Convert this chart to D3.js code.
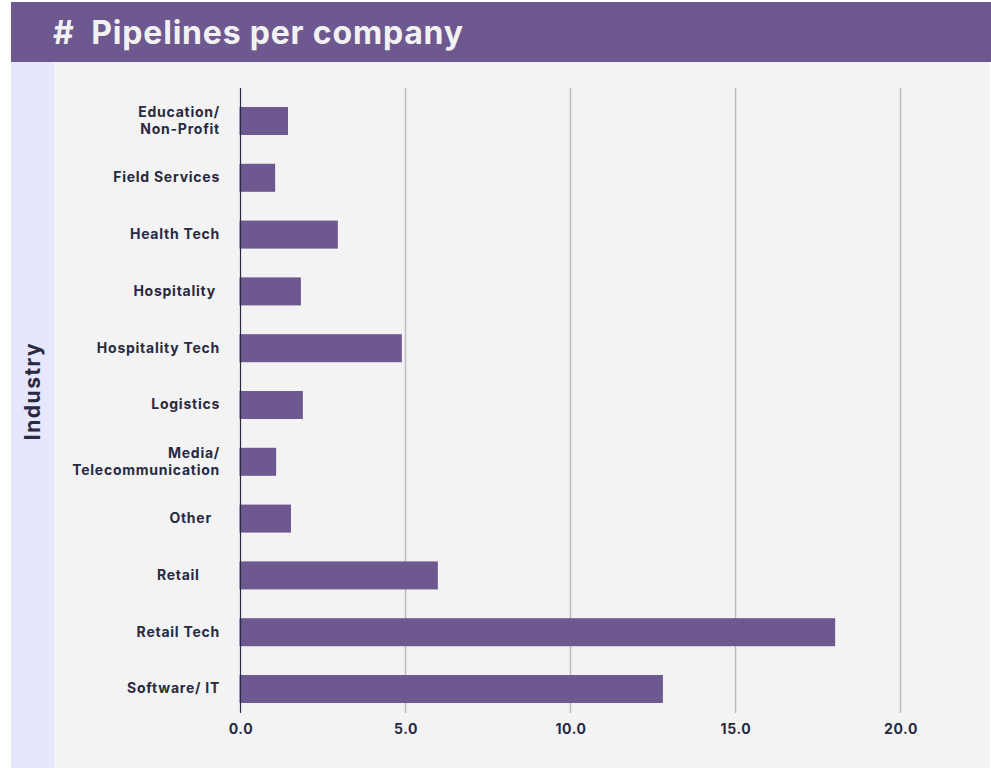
<!DOCTYPE html>
<html>
<meta charset="utf-8">
<head>
<style>
  body { margin: 0; background: #fff; }
  text { font-family: Inter, "Noto Sans", sans-serif; font-weight: 700; white-space: pre; }
</style>
<script src="https://cdn.jsdelivr.net/npm/d3@7"></script>
</head>
<body>
  <svg width="991" height="768"></svg>
  <script>
  // data
  var industries = ["Education/\nNon-Profit", "Field Services", "Health Tech", "Hospitality ",
                    "Hospitality Tech", "Logistics", "Media/\nTelecommunication", "Other  ",
                    "Retail     ", "Retail Tech", "Software/ IT"];
  var pipelines = [1.44, 1.05, 2.95, 1.83, 4.89, 1.89, 1.08, 1.53, 5.98, 18.02, 12.8];
  var xTicks = [0, 5, 10, 15, 20];

  var purple = "#6e5890",
      ink = "#272a42";

  var svg = d3.select("svg");

  // panels
  svg.append("rect").attr("x", 11).attr("y", 2).attr("width", 980).attr("height", 60).attr("fill", purple);
  svg.append("rect").attr("x", 11).attr("y", 62).attr("width", 43).attr("height", 706).attr("fill", "#e6e6fc");
  svg.append("rect").attr("x", 54).attr("y", 62).attr("width", 936).attr("height", 706).attr("fill", "#f3f3f3");

  svg.append("text")
      .attr("x", 53).attr("y", 44)
      .attr("fill", "#f2f2f2")
      .style("font-size", "32px")
      .style("letter-spacing", "0.8px")
      .text("#  Pipelines per company");

  svg.append("text")
      .attr("transform", "translate(40,391) rotate(-90)")
      .attr("text-anchor", "middle")
      .attr("fill", ink)
      .style("font-size", "21px")
      .style("letter-spacing", "1.5px")
      .text("Industry");

  var x = d3.scaleLinear().domain([0, 20]).range([240.5, 900.5]);
  var y = d3.scaleBand().domain(industries).range([92.6, 717.4]).paddingInner(0.507).paddingOuter(0.2535);

  // grid
  svg.append("g").selectAll("line")
    .data(xTicks.slice(1))
    .enter().append("line")
      .attr("x1", function(d) { return x(d); })
      .attr("x2", function(d) { return x(d); })
      .attr("y1", 88).attr("y2", 713)
      .attr("stroke", "#bdbdbd").attr("stroke-width", 1.5);

  // bars
  svg.append("g").selectAll("rect")
    .data(industries)
    .enter().append("rect")
      .attr("x", x(0) - 1)
      .attr("y", function(d) { return y(d); })
      .attr("width", function(d, i) { return x(pipelines[i]) - x(0) + 1; })
      .attr("height", y.bandwidth())
      .attr("fill", purple);

  // zero line
  svg.append("line")
      .attr("x1", x(0)).attr("x2", x(0))
      .attr("y1", 88).attr("y2", 713)
      .attr("stroke", ink).attr("stroke-width", 1.2);

  // x axis labels
  var xAxis = svg.append("g")
      .attr("transform", "translate(0,713)")
      .call(d3.axisBottom(x).tickValues(xTicks).tickFormat(d3.format(".1f")).tickSize(0).tickPadding(11));
  xAxis.select(".domain").remove();
  xAxis.selectAll("text")
      .attr("fill", ink)
      .style("font-size", "14px")
      .style("letter-spacing", "0.6px")
      .style("font-family", "Inter, sans-serif");

  // y axis labels
  var yAxis = svg.append("g")
      .attr("transform", "translate(240,0)")
      .call(d3.axisLeft(y).tickSize(0).tickPadding(20));
  yAxis.select(".domain").remove();
  yAxis.selectAll("text")
      .attr("fill", ink)
      .style("font-size", "14px")
      .style("letter-spacing", "0.75px")
      .style("font-family", "Inter, sans-serif")
      .each(function(d) {
        var lines = d.split("\n");
        if (lines.length < 2) return;
        var t = d3.select(this).text(null);
        lines.forEach(function(l, i) {
          t.append("tspan").attr("x", -20).attr("dy", i ? "1.2em" : "-0.28em").text(l);
        });
      });
  </script>
</body>
</html>
